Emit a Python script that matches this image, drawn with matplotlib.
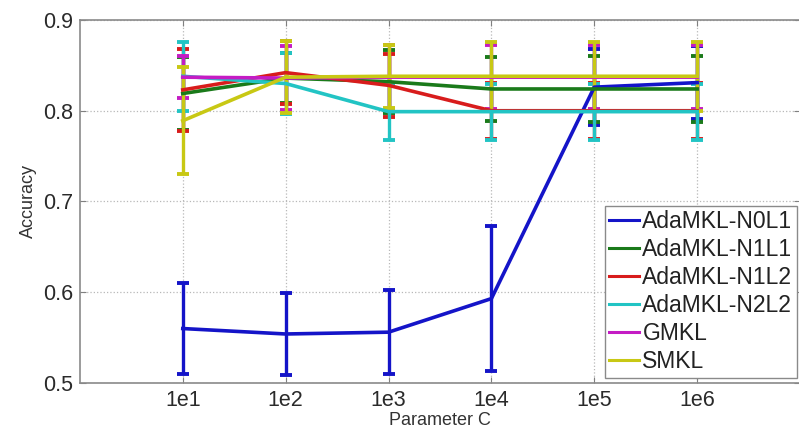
import matplotlib
matplotlib.use('Agg')
import matplotlib.pyplot as plt
from matplotlib.lines import Line2D
import numpy as np

plt.rcParams['font.family'] = ['Liberation Sans', 'DejaVu Sans']

# Parameter C sweep
c_labels = ['1e1', '1e2', '1e3', '1e4', '1e5', '1e6']

# mean accuracy and std for each method
n0l1 = [0.560, 0.554, 0.556, 0.593, 0.826, 0.831]
n0l1_err = [0.050, 0.045, 0.046, 0.080, 0.042, 0.040]
n1l1 = [0.819, 0.836, 0.832, 0.824, 0.824, 0.824]
n1l1_err = [0.040, 0.028, 0.035, 0.035, 0.036, 0.036]
n1l2 = [0.823, 0.842, 0.828, 0.800, 0.800, 0.800]
n1l2_err = [0.045, 0.035, 0.035, 0.031, 0.031, 0.031]
n2l2 = [0.838, 0.830, 0.799, 0.799, 0.799, 0.799]
n2l2_err = [0.038, 0.034, 0.031, 0.031, 0.031, 0.031]
gmkl = [0.837, 0.836, 0.837, 0.837, 0.837, 0.837]
gmkl_err = [0.023, 0.035, 0.035, 0.035, 0.035, 0.035]
smkl = [0.789, 0.837, 0.838, 0.838, 0.838, 0.838]
smkl_err = [0.059, 0.040, 0.035, 0.038, 0.038, 0.038]

names = ['AdaMKL-N0L1', 'AdaMKL-N1L1', 'AdaMKL-N1L2', 'AdaMKL-N2L2', 'GMKL', 'SMKL']
means = [n0l1, n1l1, n1l2, n2l2, gmkl, smkl]
errs = [n0l1_err, n1l1_err, n1l2_err, n2l2_err, gmkl_err, smkl_err]
# old matlab line colours
colorList = ['#1414c8', '#1a7a1a', '#d81c1c', '#22c4c4', '#c41cc4', '#c8c814']

fig = plt.figure(figsize=(7.99, 4.33), dpi=100)
ax = fig.add_axes([0.100, 0.1155, 0.9013, 0.8383])

x = np.arange(1, len(c_labels) + 1)
for i in range(len(names)):
	ax.errorbar(x, means[i], yerr=errs[i], color=colorList[i], lw=2.6,
				elinewidth=2.4, capsize=4, capthick=2.8)

ax.set_xlim(0, 7)
ax.set_ylim(0.5, 0.9)
ax.set_xticks(x)
ax.set_xticklabels(c_labels)
ax.set_yticks([0.5, 0.6, 0.7, 0.8, 0.9])
ax.set_yticklabels(['0.5', '0.6', '0.7', '0.8', '0.9'])
ax.tick_params(direction='in', top=True, right=True, length=4, color='#808080',
			   labelsize=15.5, labelcolor='#2a2a2a', pad=5)
ax.grid(True, linestyle=':', color='#b8b8b8', lw=0.9)
for s in ax.spines.values():
	s.set_color('#8a8a8a')
	s.set_linewidth(1.2)

ax.set_xlabel('Parameter C', fontsize=13, color='#333333', labelpad=1)
ax.set_ylabel('Accuracy', fontsize=13, color='#333333', labelpad=4)

# plain line handles for the legend, no error bar glyphs
handles = [Line2D([], [], color=c, lw=2.2) for c in colorList]
leg = ax.legend(handles, names, loc='lower right', bbox_to_anchor=(0.996, 0.0138),
				borderaxespad=0, fancybox=False, framealpha=1,
				edgecolor='#8a8a8a', fontsize=16.5, handlelength=1.3,
				handletextpad=0.15, labelspacing=0.22, borderpad=0.2)
for t in leg.get_texts():
	t.set_color('#222222')

fig.savefig('out.png', dpi=100)
